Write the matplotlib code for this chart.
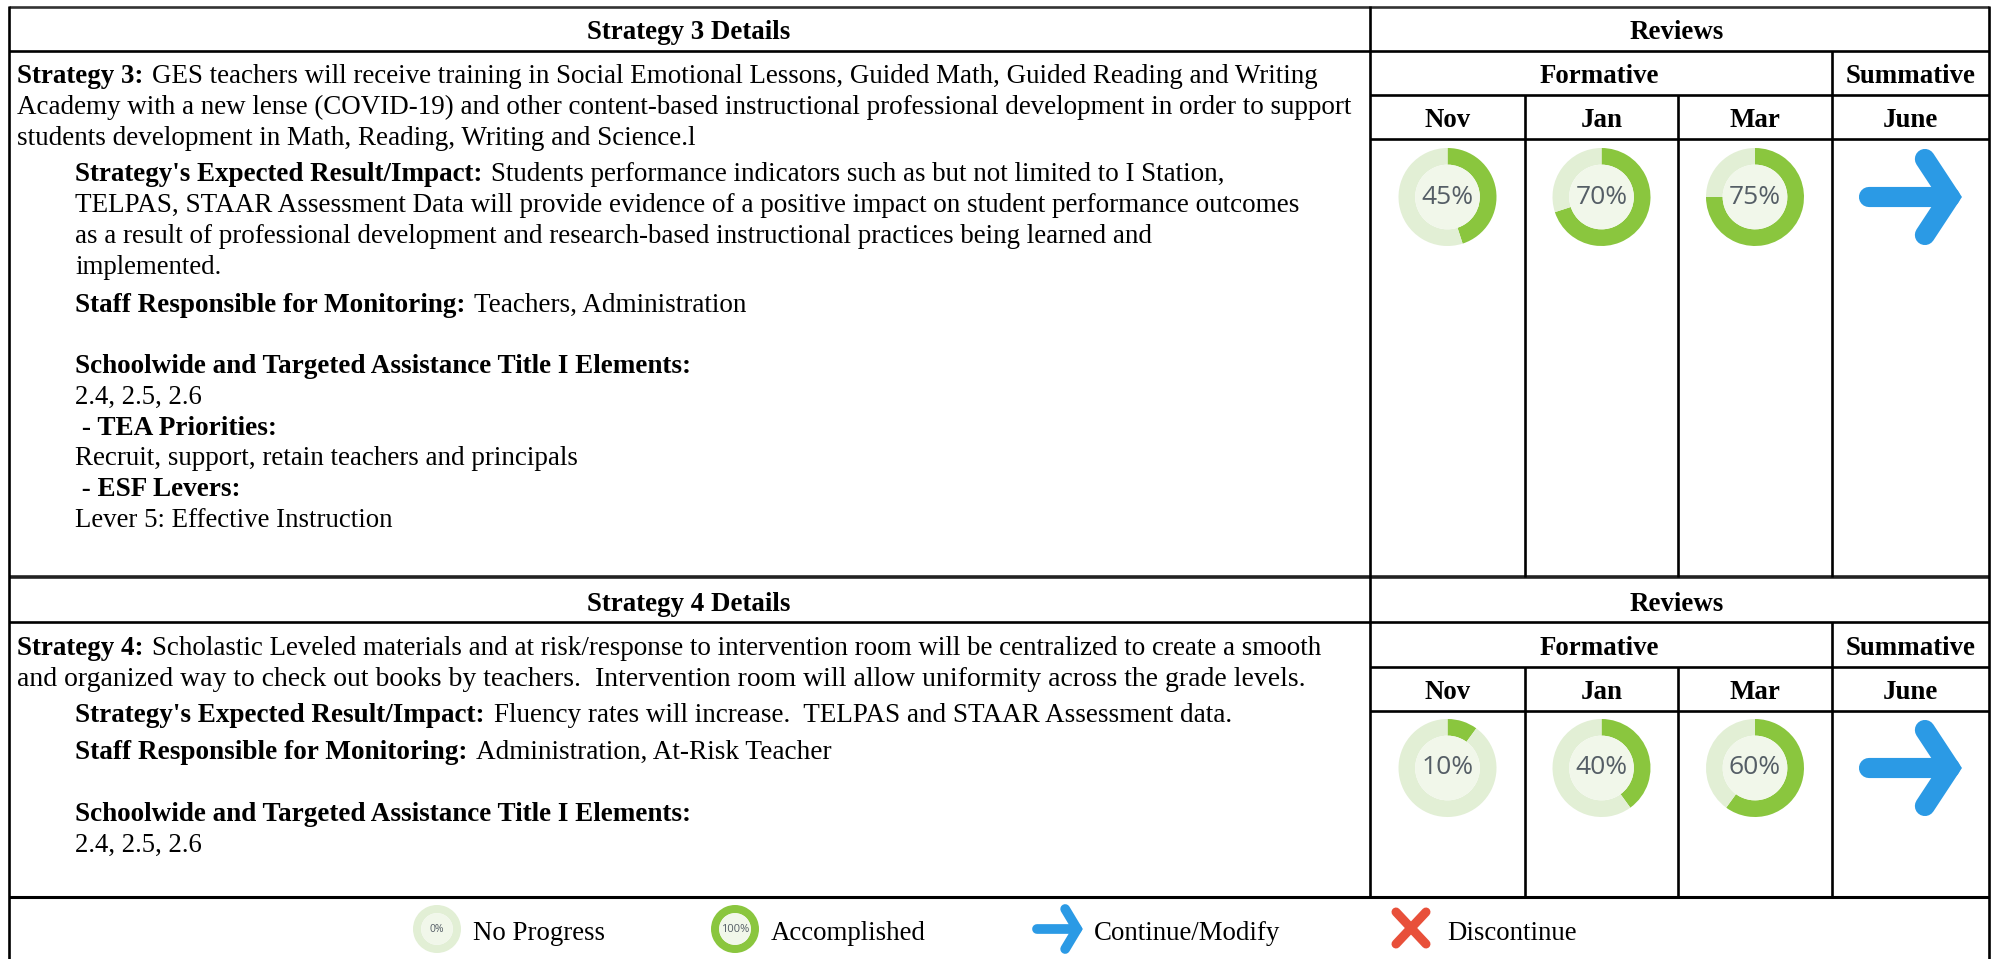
import matplotlib
matplotlib.use("Agg")
import matplotlib.pyplot as plt
from matplotlib.patches import Circle

W, H = 1991, 959

months = ["Nov", "Jan", "Mar", "June"]
strategy3_progress = [45, 70, 75]
strategy4_progress = [10, 40, 60]
legend_labels = ["No Progress", "Accomplished", "Continue/Modify", "Discontinue"]
legend_progress = [0, 100]

# (baseline y, x, right end x, bold part, regular part)
strategy3_lines = [
    (83, 17, 1320, "Strategy 3:", "GES teachers will receive training in Social Emotional Lessons, Guided Math, Guided Reading and Writing"),
    (114, 17, 1353, "", "Academy with a new lense (COVID-19) and other content-based instructional professional development in order to support"),
    (145, 17, 694, "", "students development in Math, Reading, Writing and Science.l"),
    (181, 75, 1227, "Strategy's Expected Result/Impact:", "Students performance indicators such as but not limited to I Station,"),
    (212, 75, 1301, "", "TELPAS, STAAR Assessment Data will provide evidence of a positive impact on student performance outcomes"),
    (243, 75, 1153, "", "as a result of professional development and research-based instructional practices being learned and"),
    (274, 75, 221, "", "implemented."),
    (312, 75, 747, "Staff Responsible for Monitoring:", "Teachers, Administration"),
    (373, 75, 693, "Schoolwide and Targeted Assistance Title I Elements:", ""),
    (404, 75, 202, "", "2.4, 2.5, 2.6"),
    (435, 75, 276, " - TEA Priorities:", ""),
    (465, 75, 577, "", "Recruit, support, retain teachers and principals"),
    (496, 75, 240, " - ESF Levers:", ""),
    (527, 75, 394, "", "Lever 5: Effective Instruction"),
]
strategy4_lines = [
    (655, 17, 1322, "Strategy 4:", "Scholastic Leveled materials and at risk/response to intervention room will be centralized to create a smooth"),
    (686, 17, 1309, "", "and organized way to check out books by teachers.  Intervention room will allow uniformity across the grade levels."),
    (722, 75, 1234, "Strategy's Expected Result/Impact:", "Fluency rates will increase.  TELPAS and STAAR Assessment data."),
    (759, 75, 829, "Staff Responsible for Monitoring:", "Administration, At-Risk Teacher"),
    (821, 75, 693, "Schoolwide and Targeted Assistance Title I Elements:", ""),
    (852, 75, 202, "", "2.4, 2.5, 2.6"),
]

GREEN = "#8ac63e"
RING = "#e2efd5"
INNER = "#f1f7ea"
BLUE = "#2b9ae5"
RED = "#e8503a"
SERIF = "Liberation Serif"
FS = 19.4

fig = plt.figure(figsize=(W / 100, H / 100), dpi=100)
ax = fig.add_axes([0, 0, 1, 1])
ax.set_xlim(0, W)
ax.set_ylim(H, 0)
ax.axis("off")
renderer = fig.canvas.get_renderer()


def hline(y, x0, x1, lw=1.9, color="black"):
    ax.plot([x0, x1], [y, y], color=color, lw=lw, solid_capstyle="butt")


def vline(x, y0, y1, lw=1.9, color="black"):
    ax.plot([x, x], [y0, y1], color=color, lw=lw, solid_capstyle="butt")


def write_line(y, x, end, bold, regular):
    # the source text is set a bit unevenly, so each line is sized to its own width
    fs = FS
    for step in range(3):
        parts = []
        cur = x
        if bold:
            t = ax.text(cur, y, bold, family=SERIF, weight="bold", fontsize=fs, va="baseline")
            parts.append(t)
            cur = t.get_window_extent(renderer).x1 + 9
        if regular:
            t = ax.text(cur, y, regular, family=SERIF, fontsize=fs, va="baseline")
            parts.append(t)
        if step < 2:
            right = parts[-1].get_window_extent(renderer).x1
            fs = fs * (end - x) / (right - x)
            for p in parts:
                p.remove()


def header(x, y, s):
    ax.text(x, y, s, family=SERIF, weight="bold", fontsize=FS, va="baseline", ha="center")


def donut(cx, cy, r, value, fontsize):
    sub = fig.add_axes([(cx - r) / W, 1 - (cy + r) / H, 2 * r / W, 2 * r / H])
    sub.pie([value, 100 - value], colors=[GREEN, RING], startangle=90, counterclock=False,
            radius=1, wedgeprops={"width": 0.34, "linewidth": 0})
    sub.add_patch(Circle((0, 0), 0.66, color=INNER, lw=0))
    sub.set_xlim(-1, 1)
    sub.set_ylim(-1, 1)
    sub.text(0, 0, f"{value}%", family="Open Sans", fontsize=fontsize, color="#555e66",
             ha="center", va="center")


def arrow(x0, x1, cy, half, lw, head):
    # shaft and head with rounded ends, miter tip lands on x1
    lw_px = lw * 100 / 72
    tip = x1 - lw_px * 0.6
    back = tip - head
    ax.plot([x0 + lw_px / 2, tip], [cy, cy], color=BLUE, lw=lw, solid_capstyle="round")
    ax.plot([back, tip, back], [cy - half, cy, cy + half], color=BLUE, lw=lw,
            solid_capstyle="round", solid_joinstyle="miter")


# table rules
X_LEFT, X_SPLIT, X_RIGHT = 9, 1370, 1989
X_MONTH = [1370, 1525, 1678, 1832, 1989]
hline(7, X_LEFT, X_RIGHT, color="#333333")
hline(51, X_LEFT, X_RIGHT)
hline(95, X_SPLIT, X_RIGHT)
hline(139, X_SPLIT, X_RIGHT)
hline(577, X_LEFT, X_RIGHT, lw=2.6, color="#222222")
hline(622, X_LEFT, X_RIGHT)
hline(667, X_SPLIT, X_RIGHT)
hline(711, X_SPLIT, X_RIGHT)
hline(897, X_LEFT, X_RIGHT, lw=2.2)
vline(X_LEFT, 6, H)
vline(X_RIGHT, 6, H)
vline(X_SPLIT, 6, 897)
vline(X_MONTH[3], 51, 577)
vline(X_MONTH[3], 622, 897)
for xm in X_MONTH[1:3]:
    vline(xm, 95, 577)
    vline(xm, 667, 897)

# text blocks
for line in strategy3_lines + strategy4_lines:
    write_line(*line)

# headers
x_centres = [(X_MONTH[i] + X_MONTH[i + 1]) / 2 for i in range(4)]
x_reviews = (X_SPLIT + X_RIGHT) / 2 - 3
x_formative = (X_SPLIT + X_MONTH[3]) / 2 - 2
for title, y0 in (("Strategy 3 Details", 0), ("Strategy 4 Details", 572)):
    header(689, 39 + y0, title)
    header(x_reviews, 39 + y0, "Reviews")
    header(x_formative, 83 + y0, "Formative")
    header(x_centres[3], 83 + y0, "Summative")
    for xc, m in zip(x_centres, months):
        header(xc, 127 + y0, m)

# progress rings and arrows
for xc, v in zip(x_centres, strategy3_progress):
    donut(xc, 197, 49, v, 19)
for xc, v in zip(x_centres, strategy4_progress):
    donut(xc, 768, 49, v, 19)
arrow(1859, 1962, 197, 38, 14.5, 25)
arrow(1859, 1962, 768, 38, 14.5, 25)

# legend
donut(437, 929, 24, legend_progress[0], 7.5)
donut(735, 929, 24, legend_progress[1], 8)
arrow(1032, 1083, 929, 20, 7, 12)
ax.plot([1396, 1426], [912, 944], color=RED, lw=6.5, solid_capstyle="round")
ax.plot([1426, 1396], [912, 944], color=RED, lw=6.5, solid_capstyle="round")
for x, s in zip([473, 771, 1094, 1447], legend_labels):
    ax.text(x, 940, s, family=SERIF, fontsize=FS, va="baseline")

fig.savefig("out.png", dpi=100)
